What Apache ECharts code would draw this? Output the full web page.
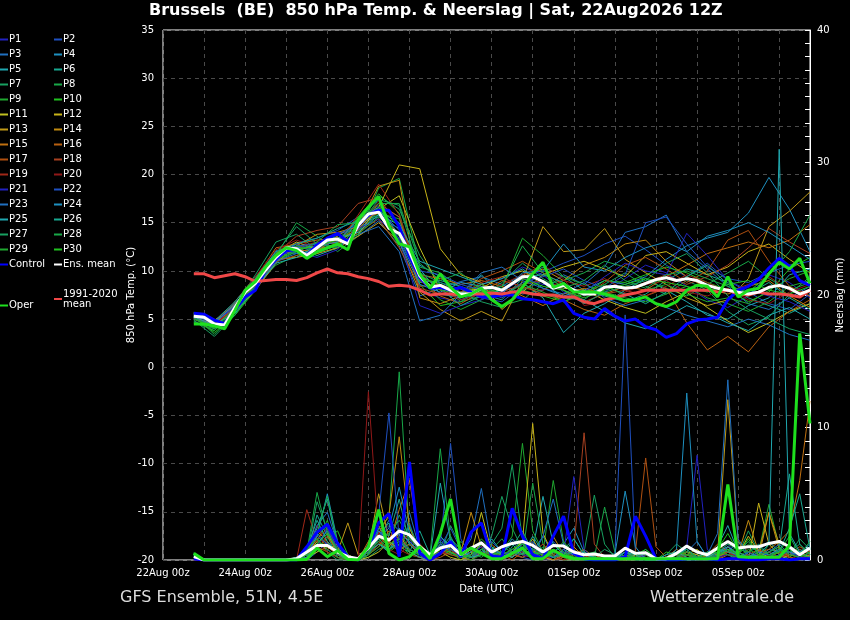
<!DOCTYPE html>
<html>
<head>
<meta charset="utf-8">
<title>Brussels 850 hPa Temp. & Neerslag</title>
<script src="https://cdn.jsdelivr.net/npm/echarts@6/dist/echarts.min.js"></script>
<style>
  html, body { margin: 0; padding: 0; background: #000; }
  #chart { width: 850px; height: 620px; }
</style>
</head>
<body>
<div id="chart"></div>
<script>
// forecast hours since 22Aug 00z (6-hourly, run 22Aug 12z)
const hours6 = [18, 24, 30, 36, 42, 48, 54, 60, 66, 72,
  78, 84, 90, 96, 102, 108, 114, 120, 126, 132,
  138, 144, 150, 156, 162, 168, 174, 180, 186, 192,
  198, 204, 210, 216, 222, 228, 234, 240, 246, 252,
  258, 264, 270, 276, 282, 288, 294, 300, 306, 312,
  318, 324, 330, 336, 342, 348, 354, 360, 366, 372,
  378];
// members are read every 12 hours
const hours12 = hours6.filter((h, k) => k % 2 === 0);

const xTickLabels = ['22Aug 00z', '', '24Aug 00z', '', '26Aug 00z', '', '28Aug 00z', '',
  '30Aug 00z', '', '01Sep 00z', '', '03Sep 00z', '', '05Sep 00z', ''];

// thick lines, 850 hPa temperature (°C), 6-hourly
const controlTemp = [5.6, 5.5, 4.9, 4.5, 6.0, 7.3, 8.0, 10.1, 11.2, 12.1,
  12.2, 11.6, 12.7, 13.4, 13.9, 13.0, 14.7, 15.8, 16.3, 16.3,
  14.6, 11.5, 9.3, 8.2, 8.3, 8.0, 8.3, 7.8, 7.3, 7.3,
  7.5, 7.5, 7.1, 7.0, 6.8, 6.6, 7.0, 5.6, 5.2, 5.0,
  6.1, 5.3, 4.8, 5.0, 4.2, 3.9, 3.1, 3.5, 4.5, 4.9,
  5.0, 5.2, 7.0, 8.0, 8.4, 9.1, 10.3, 11.3, 10.5, 9.0,
  8.5];
const meanTemp = [5.3, 5.2, 4.5, 4.4, 6.2, 7.8, 8.7, 10.1, 11.4, 12.4,
  12.3, 11.6, 12.4, 13.2, 13.3, 12.8, 14.7, 15.9, 16.1, 14.4,
  13.9, 12.0, 9.5, 8.3, 8.5, 8.0, 7.6, 7.6, 8.2, 8.3,
  8.0, 8.7, 9.4, 9.4, 8.9, 8.2, 8.5, 8.0, 7.6, 7.6,
  8.3, 8.4, 8.2, 8.3, 8.7, 9.1, 9.3, 9.0, 9.2, 9.0,
  8.5, 8.2, 8.0, 7.8, 7.6, 7.8, 8.3, 8.5, 8.2, 7.6,
  8.0];
const operTemp = [4.5, 4.5, 4.3, 4.0, 5.9, 8.0, 8.9, 10.4, 11.6, 12.4,
  12.1, 11.3, 12.0, 12.4, 12.8, 12.2, 15.3, 16.6, 17.7, 14.7,
  12.8, 12.5, 9.7, 8.2, 9.7, 8.3, 7.3, 7.6, 8.2, 7.0,
  6.3, 7.0, 8.3, 9.7, 10.9, 8.3, 8.7, 7.8, 7.8, 7.8,
  7.6, 7.3, 6.9, 7.0, 7.3, 6.6, 6.3, 6.8, 8.0, 8.5,
  8.4, 7.3, 9.4, 7.3, 8.0, 8.2, 9.7, 10.9, 10.2, 11.3,
  8.7];
const climTemp = [9.7, 9.7, 9.3, 9.5, 9.7, 9.4, 8.9, 9.0, 9.1, 9.1,
  9.0, 9.3, 9.8, 10.2, 9.8, 9.7, 9.4, 9.2, 8.9, 8.4,
  8.5, 8.4, 8.0, 7.5, 7.6, 7.6, 7.5, 7.6, 7.6, 7.7,
  7.6, 7.8, 7.8, 7.6, 7.5, 7.5, 7.3, 7.3, 6.8, 6.6,
  7.0, 7.2, 7.5, 7.7, 8.0, 8.0, 8.0, 8.0, 8.0, 8.0,
  8.0, 7.8, 8.0, 7.6, 7.5, 7.8, 7.6, 7.6, 7.5, 7.3,
  8.0];

// thick lines, precipitation (mm per 6 h)
const controlRain = [0.1, 0, 0, 0, 0, 0, 0, 0, 0, 0,
  0, 1.0, 2.1, 2.7, 1.25, 0.25, 0, 0.9, 2.8, 3.5,
  0.25, 7.4, 0.5, 0, 0.5, 1.4, 0.25, 2.1, 2.8, 0.3,
  0.2, 3.9, 1.8, 0.4, 0.1, 1.8, 3.3, 0.5, 0.1, 0,
  0, 0, 0.25, 3.3, 1.8, 0.1, 0, 0, 0.1, 0.1,
  0.1, 0, 0.1, 0.1, 0, 0, 0.1, 0.1, 0, 0.1,
  0.1];
const meanRain = [0.25, 0, 0, 0, 0, 0, 0, 0, 0, 0,
  0.1, 0.6, 1.1, 1.1, 0.6, 0.25, 0.1, 0.9, 1.8, 1.5,
  2.2, 1.9, 1.0, 0.4, 0.9, 1.1, 0.4, 0.9, 1.3, 0.6,
  1.0, 1.25, 1.4, 1.1, 0.6, 1.1, 1.05, 0.6, 0.4, 0.45,
  0.3, 0.3, 0.9, 0.5, 0.55, 0.1, 0.1, 0.5, 1.05, 0.6,
  0.4, 0.9, 1.4, 0.9, 1.0, 1.0, 1.25, 1.4, 1.0, 0.4,
  0.9];
const operRain = [0.5, 0, 0, 0, 0, 0, 0, 0, 0, 0,
  0, 0.05, 0.9, 0.25, 0.7, 0.05, 0, 1.0, 3.8, 0.5,
  0, 0.25, 1.0, 0.1, 2.0, 4.6, 0.4, 0.9, 0.5, 0.1,
  0.1, 0.5, 0.9, 0.1, 0.1, 0.75, 0.3, 0.1, 0.1, 0.1,
  0.1, 0.1, 0.1, 0.1, 0.1, 0.1, 0.1, 0.1, 0.1, 0.1,
  0.1, 0.1, 5.7, 0.25, 0.2, 0.2, 0.2, 0.2, 1.1, 17.1,
  10.3];

// members, temperature every 12 h
const tempP1 = [5.0, 4.0, 5.8, 8.2, 11.2, 12.8, 12.0, 13.9, 14.2, 16.8, 15.6, 8.0, 7.2, 6.8, 8.6, 9.2, 10.4, 9.6, 7.8, 6.6, 7.8, 9.2, 10.6, 9.8, 8.4, 7.0, 6.2, 7.4, 9.6, 8.8, 7.2];
const tempP2 = [5.5, 4.8, 6.6, 8.6, 11.0, 12.9, 13.4, 14.2, 15.6, 17.4, 13.2, 9.0, 8.8, 8.1, 7.2, 6.8, 8.4, 9.9, 10.8, 11.6, 12.8, 13.6, 12.2, 10.6, 9.4, 10.8, 9.0, 7.8, 6.6, 6.0, 7.6];
const tempP3 = [5.2, 4.4, 6.0, 9.0, 12.1, 11.8, 12.6, 12.6, 13.6, 15.2, 12.6, 7.4, 8.2, 8.9, 9.4, 8.6, 7.6, 8.0, 9.6, 8.6, 10.4, 14.0, 14.6, 15.8, 12.0, 10.2, 8.4, 6.6, 6.0, 7.2, 8.4];
const tempP4 = [5.6, 4.6, 6.4, 9.1, 11.6, 12.0, 12.9, 13.0, 14.9, 15.6, 14.4, 10.6, 9.4, 7.0, 7.8, 8.4, 9.6, 8.2, 7.4, 8.0, 9.0, 8.6, 9.4, 11.2, 12.6, 13.4, 14.0, 16.0, 19.7, 16.4, 12.0];
const tempP5 = [5.0, 4.6, 6.2, 8.4, 11.4, 12.4, 11.6, 12.4, 14.2, 16.2, 15.0, 10.2, 7.6, 7.2, 9.6, 7.4, 8.8, 7.2, 3.6, 5.6, 6.6, 8.0, 9.2, 8.0, 6.8, 5.4, 5.0, 6.4, 7.2, 9.6, 10.2];
const tempP6 = [5.3, 4.2, 6.8, 9.4, 11.8, 12.6, 12.8, 13.6, 15.0, 15.8, 13.6, 8.8, 9.0, 8.4, 7.6, 7.0, 9.2, 10.4, 9.4, 8.0, 7.4, 6.8, 7.6, 9.0, 10.2, 9.6, 8.8, 7.2, 6.4, 5.6, 6.6];
const tempP7 = [4.8, 3.8, 6.4, 9.6, 13.0, 13.8, 12.2, 13.4, 14.8, 17.8, 16.4, 11.6, 8.6, 6.8, 7.4, 8.8, 10.8, 9.2, 8.0, 7.0, 8.6, 9.8, 8.4, 7.6, 9.0, 8.0, 5.8, 4.4, 5.2, 7.6, 9.4];
const tempP8 = [5.4, 3.4, 5.6, 8.0, 11.6, 15.0, 13.6, 12.0, 13.6, 18.6, 19.6, 10.4, 9.8, 8.2, 7.8, 6.4, 7.0, 8.6, 9.0, 9.8, 11.0, 10.4, 9.0, 8.2, 7.4, 8.6, 9.8, 11.0, 9.2, 8.0, 8.8];
const tempP9 = [4.6, 4.0, 5.4, 8.4, 10.6, 11.6, 12.4, 13.2, 14.0, 16.0, 15.4, 9.2, 7.0, 6.0, 7.0, 8.2, 13.4, 11.6, 9.4, 8.6, 7.8, 7.2, 6.8, 7.6, 8.4, 7.2, 6.6, 5.8, 6.8, 8.4, 9.0];
const tempP10 = [5.2, 3.6, 5.4, 8.0, 11.0, 12.0, 11.8, 12.8, 15.6, 18.0, 16.0, 8.6, 6.4, 6.8, 8.0, 7.6, 8.0, 7.4, 6.8, 7.6, 9.0, 8.8, 9.6, 10.4, 9.8, 8.8, 8.0, 6.8, 7.8, 10.2, 11.4];
const tempP11 = [5.7, 4.9, 6.0, 8.8, 11.4, 12.2, 12.6, 13.0, 14.4, 16.4, 17.8, 12.4, 8.0, 7.8, 8.2, 9.4, 10.0, 8.8, 8.2, 8.0, 7.0, 6.2, 5.6, 6.8, 7.8, 6.2, 4.8, 3.6, 4.6, 5.8, 6.6];
const tempP12 = [5.4, 4.6, 6.2, 8.6, 11.8, 13.0, 12.2, 12.8, 13.8, 16.6, 21.0, 20.6, 12.3, 9.6, 8.8, 6.0, 7.8, 9.6, 10.4, 11.0, 10.2, 9.4, 11.6, 12.0, 10.8, 9.6, 10.4, 12.0, 12.8, 11.2, 9.8];
const tempP13 = [5.0, 4.3, 6.6, 9.0, 11.2, 11.4, 11.8, 12.4, 13.6, 15.0, 13.0, 7.8, 6.0, 4.8, 5.8, 4.8, 9.0, 14.6, 12.0, 12.2, 14.4, 11.2, 9.8, 8.6, 7.2, 6.4, 7.0, 9.2, 14.6, 16.2, 18.2];
const tempP14 = [5.6, 4.4, 5.8, 8.0, 10.8, 12.6, 13.8, 14.0, 14.6, 18.8, 19.4, 7.2, 6.6, 7.4, 8.6, 8.0, 9.4, 10.2, 9.0, 10.6, 11.4, 12.8, 13.2, 11.0, 9.4, 8.2, 7.6, 8.4, 9.0, 7.4, 6.2];
const tempP15 = [5.3, 4.7, 6.4, 8.9, 11.6, 12.2, 12.0, 13.6, 15.2, 16.0, 13.8, 9.6, 9.2, 8.6, 9.0, 8.4, 7.4, 6.4, 7.6, 8.2, 7.6, 8.4, 8.0, 9.4, 10.6, 11.8, 12.4, 13.0, 12.4, 13.2, 14.8];
const tempP16 = [5.1, 4.5, 6.0, 9.2, 12.4, 12.8, 13.2, 13.4, 14.2, 17.0, 15.6, 9.0, 7.4, 6.6, 7.8, 9.0, 8.4, 7.6, 7.0, 6.0, 5.4, 6.6, 7.4, 8.2, 4.6, 1.8, 3.2, 1.6, 4.2, 5.8, 7.0];
const tempP17 = [5.5, 4.8, 6.6, 8.4, 11.0, 11.6, 12.2, 12.6, 14.0, 15.4, 12.4, 8.4, 8.6, 7.8, 9.2, 10.0, 11.0, 9.8, 8.6, 7.4, 8.8, 10.6, 11.4, 10.2, 8.8, 10.0, 13.2, 14.2, 11.0, 8.4, 7.4];
const tempP18 = [5.2, 4.4, 6.2, 8.6, 11.8, 13.6, 14.2, 14.6, 17.0, 17.6, 14.6, 8.2, 7.6, 8.2, 7.2, 7.8, 8.6, 9.0, 8.0, 6.8, 7.6, 8.0, 8.8, 9.6, 8.6, 9.4, 10.6, 12.4, 14.4, 13.0, 11.8];
const tempP19 = [5.4, 4.5, 6.0, 8.8, 11.4, 12.4, 13.0, 12.8, 15.8, 19.0, 15.8, 9.4, 8.4, 7.6, 8.8, 9.4, 8.2, 8.0, 9.0, 8.4, 9.2, 8.0, 7.4, 8.4, 9.6, 8.8, 7.8, 8.6, 9.4, 8.0, 7.8];
const tempP20 = [5.0, 4.2, 6.8, 9.4, 12.2, 13.2, 12.4, 13.2, 14.6, 17.2, 14.8, 9.8, 8.0, 7.0, 7.6, 8.6, 9.6, 10.6, 9.2, 6.4, 6.8, 7.8, 8.6, 9.0, 7.8, 7.4, 8.2, 7.0, 6.6, 7.8, 8.6];
const tempP21 = [5.6, 4.7, 6.2, 8.4, 11.6, 12.0, 11.4, 12.2, 14.4, 15.4, 13.4, 6.4, 5.6, 6.4, 7.0, 7.8, 9.2, 8.6, 8.4, 7.8, 9.4, 10.8, 10.0, 9.6, 13.9, 11.6, 9.0, 8.0, 7.4, 6.8, 5.8];
const tempP22 = [5.3, 4.6, 6.4, 8.8, 11.2, 12.6, 12.8, 13.8, 14.8, 16.4, 14.2, 10.0, 9.6, 8.6, 8.0, 7.2, 8.8, 9.4, 10.2, 9.0, 8.2, 9.6, 15.0, 15.6, 12.8, 10.4, 9.2, 8.8, 9.8, 10.6, 11.0];
const tempP23 = [5.1, 4.2, 6.0, 8.2, 11.0, 11.8, 12.0, 12.6, 13.8, 14.6, 12.0, 4.8, 5.4, 7.6, 9.8, 10.4, 9.0, 8.2, 7.6, 8.8, 7.2, 6.4, 7.0, 6.2, 5.4, 4.8, 4.2, 5.0, 4.4, 3.4, 2.8];
const tempP24 = [5.4, 4.6, 6.6, 9.0, 11.6, 12.4, 12.6, 13.0, 15.4, 16.6, 13.0, 8.6, 7.8, 8.8, 8.4, 7.6, 9.8, 10.0, 12.8, 10.4, 10.0, 11.4, 12.4, 13.0, 12.0, 13.6, 14.2, 15.0, 14.0, 12.6, 11.2];
const tempP25 = [5.2, 4.4, 5.6, 8.2, 10.8, 11.4, 12.6, 13.4, 14.0, 15.8, 14.8, 11.0, 10.2, 9.4, 8.6, 9.2, 10.2, 8.8, 7.2, 7.0, 5.8, 4.6, 4.0, 5.2, 6.4, 5.6, 4.6, 3.8, 5.4, 6.2, 5.0];
const tempP26 = [5.6, 4.8, 6.8, 9.2, 12.0, 12.8, 13.4, 14.4, 15.2, 16.4, 13.8, 9.6, 8.2, 6.4, 7.4, 8.0, 9.4, 9.6, 8.8, 7.4, 8.4, 7.6, 6.6, 7.8, 9.4, 10.6, 8.6, 7.6, 8.8, 7.2, 6.0];
const tempP27 = [4.9, 3.2, 5.4, 8.6, 11.8, 14.6, 12.8, 12.4, 14.6, 17.4, 16.8, 9.8, 8.8, 7.8, 6.8, 6.2, 8.0, 9.0, 8.0, 6.6, 7.8, 8.4, 9.0, 10.8, 11.8, 9.8, 7.4, 6.0, 5.0, 4.0, 3.4];
const tempP28 = [5.2, 4.0, 6.2, 8.8, 11.2, 12.0, 13.0, 14.8, 15.0, 17.0, 17.0, 10.8, 9.0, 9.8, 8.0, 8.4, 12.6, 9.8, 8.2, 9.0, 10.6, 9.0, 8.2, 9.6, 10.0, 9.2, 8.4, 7.8, 9.6, 12.0, 15.8];
const tempP29 = [4.7, 3.8, 5.8, 8.2, 11.4, 12.6, 12.0, 12.6, 13.8, 15.6, 13.6, 9.2, 8.0, 7.6, 8.6, 7.4, 8.6, 7.8, 6.8, 7.8, 8.6, 7.4, 8.0, 8.6, 7.6, 6.8, 7.2, 6.6, 8.0, 9.2, 10.0];
const tempP30 = [5.0, 4.1, 6.0, 8.6, 11.2, 12.2, 12.6, 13.2, 14.6, 16.6, 14.6, 9.4, 8.6, 7.4, 7.8, 8.0, 9.2, 8.4, 8.0, 7.2, 8.0, 8.6, 9.2, 8.8, 8.4, 7.8, 8.6, 9.0, 8.0, 7.6, 8.4];

// members, precipitation (mm per 6 h)
const rainP1 = [0,0,0,0,0,0,0,0,0,0, 0,0.4,1.2,0.8,0.2,0,0,0.6,1.8,2.4, 0.8,1.6,0.2,0,0.6,1.4,0.4,0,0.8,0.2, 0,0.4,1.2,0.6,0,0.2,0.8,0.4,0,0, 0,0,0.3,0,0.6,0,0,0.2,0.4,0, 0,0.5,1.2,0.3,0,0,0.6,0.2,0,0, 0.4];
const rainP2 = [0,0,0,0,0,0,0,0,0,0, 0,0.2,1.8,2.6,0.8,0,0,0.4,2.2,1.4, 0.6,2.8,0.4,0,1.2,8.8,1.6,0.2,0.8,0.4, 0,0.6,0.2,0,0.3,1.4,0.6,0,0,0, 0,0.4,18.5,0.6,0,0,0.2,0,0,0.4, 0,0,0.6,0.2,0,0,0,0.4,0.8,0.2, 0];
const rainP3 = [0,0,0,0,0,0,0,0,0,0, 0,0,0.6,1.4,0.6,0,0,1.0,2.6,0.8, 1.8,3.6,0.8,0.2,0.6,1.2,0.4,1.6,5.4,1.0, 0.2,0.8,0.4,0.6,1.8,0.4,0,0,0.2,0, 0,0,0.4,0.2,0,0,0,0,0.6,1.4, 0.2,0,1.0,0.4,0,0.2,0.8,0.6,0,0, 0];
const rainP4 = [0.3,0,0,0,0,0,0,0,0,0, 0,0.6,2.0,1.2,0.4,0,0,0.8,1.6,3.0, 2.2,1.4,0.6,0,1.8,0.8,0.2,0.4,1.2,0.6, 0.4,1.6,0.8,0.2,0,0.6,1.2,2.4,0.6,0, 0,0.2,0,0,0.4,0,0,0.6,0.8,0.2, 0,0.4,0.6,1.4,0.2,0,0.4,0.2,1.0,0.6, 0.2];
const rainP5 = [0.5,0,0,0,0,0,0,0,0,0, 0.2,0.8,2.4,4.6,1.0,0,0,0.4,1.2,0.6, 2.4,1.2,0.4,0.2,5.8,1.4,0.6,0.2,0.4,1.6, 0.6,0.2,1.4,0.8,4.8,1.2,0.4,0,0,0.2, 0,0,0.6,0.4,0,0,0.2,0,0.4,0.2, 0,0.6,0.8,0.2,0,0.4,0.6,1.0,0.2,0, 0.6];
const rainP6 = [0.4,0,0,0,0,0,0,0,0,0, 0,0.4,3.4,1.8,0.2,0,0,0.6,1.8,2.8, 1.0,0.6,2.2,0.4,0.8,1.8,0.2,0,0.6,0.4, 0,1.0,2.2,0.6,0.4,0,0.8,1.6,0.4,0, 0,0,0,0.6,0.2,0,0,0.4,0,0, 0.2,0.8,0.4,0,0.6,1.2,0.4,0.8,6.5,1.2, 0.4];
const rainP7 = [0.2,0,0,0,0,0,0,0,0,0, 0,1.0,1.6,0.6,0,0,0,0.2,0.8,1.2, 3.4,1.8,0.6,0,0.4,2.6,1.0,0.2,0.6,1.8, 4.8,2.4,0.8,0.2,1.0,0.4,0,0,0.6,4.9, 1.2,0.2,0,0,0,0,0.4,1.2,0.6,0, 0,0,0.8,0.4,2.2,0.6,0.2,0,0.4,1.6, 0.8];
const rainP8 = [0.3,0,0,0,0,0,0,0,0,0, 0,0.6,5.1,2.0,0.4,0,0,0.8,2.4,3.2, 14.2,1.8,0.6,0.2,0.8,0.4,1.4,0.6,0.2,0.8, 1.6,0.6,0.4,5.8,1.2,0.2,0,0.4,0.8,0.2, 4.0,0.6,0,0.2,0.8,0.2,0,0,0.6,0.4, 0.2,0,0.6,1.0,0.4,0,1.2,0.4,0,0.2, 0.6];
const rainP9 = [0.2,0,0,0,0,0,0,0,0,0, 0,0.2,1.4,3.0,0.6,0,0,0.4,1.2,0.8, 1.6,2.4,0.8,0.4,1.2,0.6,0,0.4,1.6,0.8, 0.6,1.8,8.8,2.2,0.6,6.0,1.4,0.2,0,0.6, 0.2,0,0,0.4,0.8,0,0,0.4,0.2,0, 0.6,0.2,0,0.4,1.2,0.6,4.2,1.0,0.2,0, 0.4];
const rainP10 = [0.5,0,0,0,0,0,0,0,0,0, 0,0,0.8,1.6,2.2,0.4,0,0.6,1.4,0.6, 1.2,0.4,0.2,0.6,1.0,0.4,0.2,0,0.6,0.2, 0,0.8,1.4,0.4,0.2,1.2,0.6,0,0.2,0, 0,0.4,0.8,0,0,0,0.6,0.4,0,0.2, 0,0.8,2.0,0.6,0.2,0,0.4,0.6,0.2,0.8, 0.4];
const rainP11 = [0,0,0,0,0,0,0,0,0,0, 0,0.2,0.6,1.0,0.4,0,0,0.2,0.6,1.4, 0.8,1.2,0.4,0,0.6,0.2,0,0.4,3.6,0.6, 0.2,0.6,0.4,1.6,0.2,0,0.4,0.8,0,0, 0,0,0.2,0,0.4,0,0,0.2,0.4,0.8, 0.2,0.6,1.0,0.4,1.8,0.6,0.2,0,0.4,0.2, 0];
const rainP12 = [0,0,0,0,0,0,0,0,0,0, 0,0.4,1.4,0.8,1.2,0.4,0,0.6,1.8,1.0, 2.0,0.6,0.2,0,0.4,1.0,0.6,0.2,0.8,0.4, 0.2,0.6,1.4,10.3,2.0,0.4,0,0,0.6,0.2, 0,0.2,0,0.4,0,0,0,0.2,0.6,0.4, 0,0.2,0.8,0.2,0,4.3,1.2,0.4,0.2,0, 0.2];
const rainP13 = [0,0,0,0,0,0,0,0,0,0, 0,0,1.2,2.0,0.6,2.8,0.4,0.8,5.0,1.6, 2.2,1.4,0.4,0.2,0.8,0.6,0.4,0.2,1.4,0.6, 0,0.4,0.2,0.6,0.8,0.2,0.4,1.0,0.2,0, 0,0,0.4,0,0.6,0.2,0,0,0.4,0.2, 0.6,0.4,12.1,1.4,0.6,0.2,3.6,1.2,0.4,0.6, 0.2];
const rainP14 = [0,0,0,0,0,0,0,0,0,0, 0,0.6,2.2,1.4,0.4,0,0.2,1.0,2.0,3.4, 9.3,2.4,0.8,0.2,0.4,1.2,0.6,3.6,1.0,0.6, 0.4,0.2,0.8,0.4,0.6,1.8,0.4,0,0,0.4, 0,0.2,0,0,0.4,0,0.2,0.8,0.4,0, 0,0.2,0.6,0.4,3.0,0.6,3.6,0.8,0.2,0, 0.4];
const rainP15 = [0,0,0,0,0,0,0,0,0,0, 0,0.4,1.6,2.4,0.8,0.2,0,1.4,2.6,1.2, 3.8,6.0,1.2,0.4,0.6,0.8,0.2,0,0.6,0.4, 0.2,0.6,0.4,0.2,0.8,0.4,0.2,0.6,0.4,0, 0,0,0.2,0,0.6,0.2,0,0.4,0.6,0.2, 0,0,0.4,0.2,0,0.6,0.8,1.4,2.2,6.0, 12.0];
const rainP16 = [0,0,0,0,0,0,0,0,0,0, 0,0.2,0.8,1.8,0.6,0,0,0.4,1.0,2.2, 1.6,0.8,0.4,0,0.2,0.6,0.4,0.2,0.8,1.2, 0.4,0,0.6,1.2,0.4,0,0.2,0.4,0.8,0.2, 0,0,0,0.2,0.4,0,0,0.6,0.2,0, 0.4,1.2,0.6,0,0.2,0.4,0.2,0.6,0.4,1.0, 0.6];
const rainP17 = [0,0,0,0,0,0,0,0,0,0, 0,0.4,1.0,0.6,0.2,0,0,0.6,1.4,0.8, 1.2,2.0,0.6,0.2,0.4,0.8,0.2,0.6,1.0,0.4, 0.2,0.4,0.8,0.2,0,0.6,0.4,0,0.2,0.4, 0,0.2,0,0.6,7.7,1.0,0.2,0,0.4,0.2, 0,0.4,0.6,0.2,0.4,0.8,0.4,0.2,0.6,0.4, 0.2];
const rainP18 = [0,0,0,0,0,0,0,0,0,0, 0,0.6,1.8,1.0,0.4,0,0,0.8,2.0,1.4, 0.6,1.6,0.8,0.2,0.6,0.4,0.2,0.8,0.4,0.2, 0.6,0.4,0.2,0.6,1.2,0.4,0,0.8,9.6,1.2, 0.2,0,0,0.2,0.4,0,0,0.2,0.6,0.2, 0,0.4,0.8,0.2,0,0.4,0.6,0.2,0.4,0.8, 0.4];
const rainP19 = [0,0,0,0,0,0,0,0,0,0, 0,3.8,1.4,0.6,0.2,0,0,0.4,1.2,2.0, 0.8,0.4,0.2,0,0.6,0.8,0.4,0.2,0.6,0.4, 0.2,0.6,0.4,0.2,0.8,0.2,0,0.2,0.4,0, 0,0.2,0.6,0.2,0,0,0,0.4,0.2,0, 0.2,0,0.6,0.2,0.4,0,0.2,0.6,0.2,0, 0.2];
const rainP20 = [0,0,0,0,0,0,0,0,0,0, 0,0.8,2.6,1.2,0.4,0,0,12.7,1.6,0.8, 0.4,1.2,0.6,0,0.4,0.8,0.2,0.4,0.6,0.2, 0,0.4,0.6,0.2,0,0.4,0.8,0.2,0,0.2, 0,0,0.4,0,0.2,0,0,0.2,0.4,0, 0,0.2,0.4,0.6,0.2,0,0.4,0.2,0,0.4, 0];
const rainP21 = [0,0,0,0,0,0,0,0,0,0, 0,0.2,1.0,2.4,0.8,0,0,0.6,1.8,2.6, 1.4,0.8,0.4,0,1.6,0.6,0.2,0.4,1.0,0.6, 0.2,0.8,0.4,0.2,0.6,0.2,0.4,6.3,0.8,0, 0,0,0.2,0,0.4,0,0,0.6,1.0,7.9, 0.8,0.2,0.4,0.2,0,0.6,0.4,0.2,0.8,0.4, 0.2];
const rainP22 = [0,0,0,0,0,0,0,0,0,0, 0,0.4,1.8,1.2,0.6,0,0,1.2,3.4,11.1, 1.6,0.8,0.4,0.2,1.0,2.4,0.8,0.2,0.6,1.4, 0.6,0.4,0.8,1.4,0.4,0.2,0.6,0.4,0,0, 0,0.2,0.6,0,0,0,0.2,0.4,0.8,0.2, 0,0.4,0.8,0.2,0.6,0.2,0,0.4,0.6,0.2, 0];
const rainP23 = [0.4,0,0,0,0,0,0,0,0,0, 0,0.6,2.6,3.6,1.2,0.2,0,0.8,2.2,1.6, 2.0,1.4,0.6,0.2,1.2,0.8,0.4,0.2,1.2,0.8, 0.4,1.4,0.6,0.2,1.8,4.6,1.2,0.4,0,0, 0,0,0.4,0,0.6,0.2,0,0,1.0,0.6, 0.4,2.0,13.6,1.6,0.4,0.2,0.6,1.2,0.4,0.6, 1.2];
const rainP24 = [0.4,0,0,0,0,0,0,0,0,0, 0,0.4,1.8,5.0,1.4,0.2,0,0.4,1.6,2.4, 5.5,2.0,0.6,0.4,1.8,1.0,0.2,0.6,1.4,0.4, 0.2,0.6,1.2,0.4,0.6,0.2,0.8,0.4,0.2,0, 0,0.4,5.2,1.0,0,0,0,0.8,12.6,1.4, 0.2,0.6,1.0,0.4,0.2,0.6,0.4,0.8,0.6,0.4, 0.2];
const rainP25 = [0.5,0,0,0,0,0,0,0,0,0, 0,0.2,1.2,2.2,0.6,0,0,0.6,1.2,0.8, 1.4,0.6,0.2,0,0.6,1.6,0.8,0.2,0.4,1.0, 0.4,0.2,0.8,0.4,0.2,0.6,0.4,0,0.6,0.2, 0,0,0.6,0.2,0,0,0.4,0.6,0.2,0, 0.2,1.0,2.6,0.6,0.2,0.4,1.2,31.0,2.0,0.6, 1.0];
const rainP26 = [0.4,0,0,0,0,0,0,0,0,0, 0.2,0.8,3.0,1.4,0.4,0,0,0.8,2.4,1.8, 4.6,1.2,0.4,0.2,0.6,1.2,0.4,0.2,0.8,0.4, 0.6,1.2,0.4,1.8,0.6,0.2,0.4,1.6,0.4,0.2, 0,0.2,0.6,0.4,0,0,0,0.4,0.8,0.2, 0.6,0.8,0.6,0.4,0.2,0.8,1.4,0.6,2.4,5.0, 0.8];
const rainP27 = [0.3,0,0,0,0,0,0,0,0,0, 0,0.4,4.4,2.2,0.6,0,0,0.4,1.6,0.8, 1.2,2.6,0.8,0.4,1.4,0.6,0.2,0.4,0.8,1.2, 2.4,7.2,1.6,0.4,0.8,0.2,0.4,0.6,0,0.2, 0.8,0.4,0,0.2,0.6,0,0,0.2,0.4,0.2, 0,0.4,0.8,0.6,1.4,0.4,0.2,0.8,0.6,1.2, 0.4];
const rainP28 = [0.3,0,0,0,0,0,0,0,0,0, 0,0.6,2.0,4.8,1.2,0,0,0.6,1.4,2.0, 3.0,1.6,0.8,0.4,8.4,1.6,0.4,0.2,0.8,0.4, 1.0,0.6,0.4,0.8,0.6,1.2,0.6,0.2,0.4,0.6, 0.2,0,0,0.6,0.4,0,0,0.2,0.8,0.2, 0,0.6,1.2,0.8,0.6,1.0,0.4,0.6,1.8,0.4, 1.4];
const rainP29 = [0.4,0,0,0,0,0,0,0,0,0, 0,0.8,1.6,0.8,0.2,0,0,0.4,1.0,1.6, 2.2,0.8,0.4,0,0.6,1.2,0.4,0,0.4,0.6, 0.2,0.4,1.0,0.6,0.2,0.4,1.4,0.4,0,0, 0,0,0.2,0,0.2,0,0,0.4,0.6,0.2, 0.4,0.6,0.4,0.2,0.8,0.4,0.6,1.0,0.4,0.2, 0.6];
const rainP30 = [0.5,0,0,0,0,0,0,0,0,0, 0,0.4,1.2,2.0,0.8,0,0,0.6,1.8,1.2, 1.6,0.6,0.4,0.2,0.8,0.6,0.2,0.4,1.2,0.6, 0.4,0.8,1.2,0.6,0.4,0.8,0.4,0.2,0,0, 0.2,0,0.4,0.2,0,0,0.2,0.6,0.4,0, 0,0.2,0.8,0.4,1.6,0.4,0.2,0.6,0.8,0.4, 0.2];

const memberTemps = [tempP1, tempP2, tempP3, tempP4, tempP5, tempP6, tempP7, tempP8, tempP9, tempP10,
  tempP11, tempP12, tempP13, tempP14, tempP15, tempP16, tempP17, tempP18, tempP19, tempP20,
  tempP21, tempP22, tempP23, tempP24, tempP25, tempP26, tempP27, tempP28, tempP29, tempP30];
const memberRains = [rainP1, rainP2, rainP3, rainP4, rainP5, rainP6, rainP7, rainP8, rainP9, rainP10,
  rainP11, rainP12, rainP13, rainP14, rainP15, rainP16, rainP17, rainP18, rainP19, rainP20,
  rainP21, rainP22, rainP23, rainP24, rainP25, rainP26, rainP27, rainP28, rainP29, rainP30];

// P1..P20 run blue -> green -> yellow -> red, P21..P30 repeat the first ten
const baseColors = ['#2222c0', '#1f50c0', '#2070c0', '#1e90c0', '#20a8b0',
  '#18a890', '#18a060', '#18a848', '#20a830', '#20c020',
  '#c0c020', '#c8b418', '#c09a18', '#c08a10', '#c07010',
  '#b86010', '#b05010', '#a84020', '#a02818', '#901818'];
const memberColors = baseColors.concat(baseColors.slice(0, 10));

const myChart = echarts.init(document.getElementById('chart'));

function pairs(hours, values) {
  return hours.map((h, k) => [h, values[k]]);
}

function lineSeries(name, color, width, axis, hours, values) {
  return {
    name: name,
    type: 'line',
    yAxisIndex: axis,
    data: pairs(hours, values),
    symbol: 'none',
    showSymbol: false,
    silent: true,
    emphasis: { disabled: true },
    lineStyle: { color: color, width: width },
    itemStyle: { color: color }
  };
}

const series = [];
memberTemps.forEach((t, k) => {
  series.push(lineSeries('P' + (k + 1), memberColors[k], 1, 0, hours12, t));
});
memberRains.forEach((r, k) => {
  series.push(lineSeries('P' + (k + 1), memberColors[k], 1, 1, hours6, r));
});
series.push(lineSeries('Control', '#0000ff', 3, 0, hours6, controlTemp));
series.push(lineSeries('Control', '#0000ff', 3, 1, hours6, controlRain));
series.push(lineSeries('1991-2020 mean', '#f04848', 3, 0, hours6, climTemp));
series.push(lineSeries('Ens. mean', '#ffffff', 3, 0, hours6, meanTemp));
series.push(lineSeries('Ens. mean', '#ffffff', 3, 1, hours6, meanRain));
series.push(lineSeries('Oper', '#1ee01e', 3, 0, hours6, operTemp));
series.push(lineSeries('Oper', '#1ee01e', 3, 1, hours6, operRain));

const oddNames = [], evenNames = [];
for (let k = 1; k <= 30; k++) {
  (k % 2 ? oddNames : evenNames).push('P' + k);
}
oddNames.push('Control');
evenNames.push('Ens. mean');

const legendBase = {
  orient: 'vertical',
  icon: 'rect',
  itemWidth: 8,
  itemHeight: 2,
  itemGap: 0,
  padding: 0,
  selectedMode: false,
  textStyle: { color: '#fff', fontSize: 10, fontFamily: 'DejaVu Sans', lineHeight: 15, padding: [0, 0, 0, -4] }
};

const gridLine = { show: true, lineStyle: { color: '#4a4a4a', type: [4, 4], width: 1 } };

option = {
  backgroundColor: '#000',
  animation: false,
  textStyle: { fontFamily: 'DejaVu Sans' },
  title: [
    {
      text: 'Brussels  (BE)  850 hPa Temp. & Neerslag | Sat, 22Aug2026 12Z',
      left: 149, top: 3, padding: 0,
      textStyle: { color: '#fff', fontSize: 16, fontWeight: 'bold', fontFamily: 'DejaVu Sans' }
    },
    {
      text: 'GFS Ensemble, 51N, 4.5E',
      left: 120, top: 590, padding: 0,
      textStyle: { color: '#ddd', fontSize: 16, fontWeight: 'normal', fontFamily: 'DejaVu Sans' }
    },
    {
      text: 'Wetterzentrale.de',
      left: 650, top: 590, padding: 0,
      textStyle: { color: '#ddd', fontSize: 16, fontWeight: 'normal', fontFamily: 'DejaVu Sans' }
    }
  ],
  legend: [
    Object.assign({}, legendBase, { left: 0, top: 32, data: oddNames }),
    Object.assign({}, legendBase, { left: 54, top: 32, data: evenNames }),
    Object.assign({}, legendBase, {
      left: 54, top: 289, data: ['1991-2020 mean'],
      formatter: () => '1991-2020\nmean',
      textStyle: Object.assign({}, legendBase.textStyle, { lineHeight: 10 })
    }),
    Object.assign({}, legendBase, { left: 0, top: 298, data: ['Oper'] })
  ],
  grid: {
    left: 163, right: 40, top: 30, bottom: 60,
    outerBoundsMode: 'none',
    show: true, borderColor: '#fff', borderWidth: 1, backgroundColor: 'transparent'
  },
  xAxis: {
    type: 'value',
    min: 0, max: 378, interval: 24,
    name: 'Date (UTC)',
    nameLocation: 'middle',
    nameGap: 24,
    nameMoveOverlap: false,
    nameTextStyle: { color: '#fff', fontSize: 10 },
    axisLine: { show: false },
    axisTick: { show: false },
    splitLine: gridLine,
    axisLabel: {
      color: '#fff', fontSize: 10, margin: 8, hideOverlap: false,
      formatter: (v) => {
        const k = v / 24;
        return Number.isInteger(k) ? (xTickLabels[k] || '') : '';
      }
    }
  },
  yAxis: [
    {
      type: 'value',
      min: -20, max: 35, interval: 5,
      name: '850 hPa Temp. (°C)',
      nameLocation: 'middle',
      nameRotate: 90,
      nameGap: 27,
      nameMoveOverlap: false,
      nameTextStyle: { color: '#fff', fontSize: 10 },
      axisLine: { show: false },
      axisTick: { show: false },
      splitLine: gridLine,
      axisLabel: { color: '#fff', fontSize: 10, margin: 9 }
    },
    {
      type: 'value',
      position: 'right',
      min: 0, max: 40, interval: 10,
      name: 'Neerslag (mm)',
      nameLocation: 'middle',
      nameRotate: 90,
      nameGap: 25,
      nameMoveOverlap: false,
      nameTextStyle: { color: '#fff', fontSize: 10 },
      axisLine: { show: true, lineStyle: { color: '#fff' } },
      axisTick: { show: true, inside: true, length: 5, lineStyle: { color: '#fff' } },
      minorTick: { show: true, splitNumber: 10, length: 5, lineStyle: { color: '#fff' } },
      splitLine: { show: false },
      axisLabel: { color: '#fff', fontSize: 10, margin: 7 }
    }
  ],
  series: series
};

myChart.setOption(option);
</script>
</body>
</html>
